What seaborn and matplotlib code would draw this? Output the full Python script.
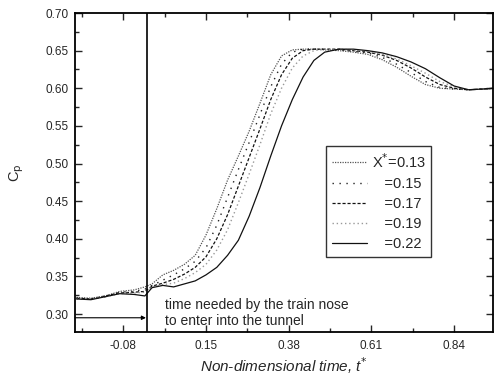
import matplotlib
matplotlib.use("Agg")
import matplotlib.pyplot as plt
import seaborn as sns
import pandas as pd
from matplotlib.ticker import FixedLocator

# non-dimensional time samples
t = [-0.21, -0.17, -0.13, -0.09, -0.05, -0.02, 0.0, 0.03, 0.06, 0.09, 0.12, 0.15,
     0.18, 0.21, 0.24, 0.27, 0.30, 0.33, 0.36, 0.39, 0.42, 0.45, 0.48, 0.52,
     0.56, 0.60, 0.64, 0.68, 0.72, 0.76, 0.80, 0.84, 0.88, 0.92, 0.95]

cp_013 = [0.322, 0.321, 0.324, 0.330, 0.332, 0.336, 0.340, 0.352, 0.358, 0.366, 0.378, 0.405,
          0.440, 0.478, 0.510, 0.543, 0.580, 0.618, 0.643, 0.651, 0.652, 0.652, 0.651, 0.650,
          0.648, 0.645, 0.638, 0.628, 0.616, 0.605, 0.600, 0.599, 0.598, 0.599, 0.600]
cp_015 = [0.321, 0.320, 0.323, 0.329, 0.330, 0.333, 0.338, 0.345, 0.352, 0.360, 0.370, 0.388,
          0.418, 0.455, 0.492, 0.528, 0.565, 0.602, 0.632, 0.648, 0.652, 0.652, 0.652, 0.651,
          0.649, 0.647, 0.641, 0.632, 0.621, 0.609, 0.601, 0.599, 0.598, 0.599, 0.600]
cp_017 = [0.321, 0.320, 0.324, 0.328, 0.329, 0.330, 0.337, 0.341, 0.346, 0.353, 0.362, 0.376,
          0.400, 0.432, 0.470, 0.508, 0.546, 0.585, 0.618, 0.640, 0.650, 0.652, 0.652, 0.652,
          0.650, 0.648, 0.644, 0.637, 0.627, 0.615, 0.605, 0.600, 0.598, 0.599, 0.600]
cp_019 = [0.320, 0.320, 0.323, 0.327, 0.328, 0.329, 0.336, 0.339, 0.341, 0.347, 0.355, 0.366,
          0.385, 0.412, 0.448, 0.486, 0.525, 0.566, 0.600, 0.627, 0.643, 0.650, 0.652, 0.652,
          0.651, 0.649, 0.645, 0.639, 0.630, 0.620, 0.609, 0.602, 0.598, 0.599, 0.600]
cp_022 = [0.320, 0.319, 0.323, 0.327, 0.326, 0.324, 0.335, 0.338, 0.336, 0.340, 0.344, 0.352,
          0.362, 0.378, 0.398, 0.430, 0.468, 0.510, 0.550, 0.585, 0.615, 0.637, 0.648, 0.652,
          0.652, 0.650, 0.647, 0.642, 0.635, 0.626, 0.614, 0.603, 0.598, 0.599, 0.600]

labels = ["X$^{*}$=0.13", "   =0.15", "   =0.17", "   =0.19", "   =0.22"]
xticks = [-0.08, 0.15, 0.38, 0.61, 0.84]
yticks = [0.30, 0.35, 0.40, 0.45, 0.50, 0.55, 0.60, 0.65, 0.70]

sns.set_style("ticks")
plt.rcParams['font.family'] = ['Liberation Sans', 'DejaVu Sans']

fig = plt.figure(figsize=(4.94, 3.83), dpi=100)
ax = fig.add_axes([0.152, 0.133, 0.846, 0.833])

styles = [
    dict(color="#555555", linestyle=(0, (1, 1)), linewidth=0.9),
    dict(color="#222222", linestyle=(0, (1, 4)), linewidth=1.0),
    dict(color="#111111", linestyle=(0, (2.5, 1.5)), linewidth=0.9),
    dict(color="#999999", linestyle=(0, (1, 2)), linewidth=1.0),
    dict(color="#111111", linestyle="-", linewidth=0.9),
]
for ys, lab, st in zip([cp_013, cp_015, cp_017, cp_019, cp_022], labels, styles):
    df = pd.DataFrame({"t": t, "cp": ys})
    sns.lineplot(data=df, x="t", y="cp", ax=ax, label=lab, **st)

ax.set_xlim(-0.214, 0.948)
ax.set_ylim(0.276, 0.70)
ax.xaxis.set_major_locator(FixedLocator(xticks))
ax.xaxis.set_minor_locator(FixedLocator([v - 0.115 for v in xticks] + [0.955]))
ax.yaxis.set_major_locator(FixedLocator(yticks))
ax.yaxis.set_minor_locator(FixedLocator([v + 0.025 for v in yticks[:-1]]))
ax.set_xticklabels(["-0.08", "0.15", "0.38", "0.61", "0.84"])
ax.set_yticklabels(["%.2f" % v for v in yticks])
ax.tick_params(which="both", direction="in", top=True, right=True, width=1.0)
ax.tick_params(which="major", length=5, labelsize=8.5)
ax.tick_params(which="minor", length=3)
ax.tick_params(axis="y", pad=5)
ax.tick_params(axis="x", pad=6)
for sp in ax.spines.values():
    sp.set_linewidth(1.3)
    sp.set_color("black")

ax.set_xlabel("Non-dimensional time, t$^{*}$", fontsize=11, style="italic", labelpad=2)
ax.set_ylabel("C$_\\mathrm{p}$", fontsize=10.5, labelpad=14)

# train nose entry marker
ax.axvline(-0.015, color="black", linewidth=1.2)
ax.annotate("", xy=(-0.017, 0.295), xytext=(-0.214, 0.295),
            arrowprops=dict(arrowstyle="-|>", color="black", lw=0.8,
                            mutation_scale=6, shrinkA=0, shrinkB=0))
ax.text(0.036, 0.3015, "time needed by the train nose\nto enter into the tunnel",
        fontsize=10, va="center", ha="left", linespacing=1.15)

leg = ax.legend(loc="upper left", bbox_to_anchor=(0.600, 0.583), borderaxespad=0,
                fontsize=10.5, frameon=True, fancybox=False, handlelength=2.4,
                labelspacing=0.42, borderpad=0.4, handletextpad=0.35)
leg.get_frame().set_edgecolor("black")
leg.get_frame().set_linewidth(1.0)

fig.savefig("out.png", dpi=100)
